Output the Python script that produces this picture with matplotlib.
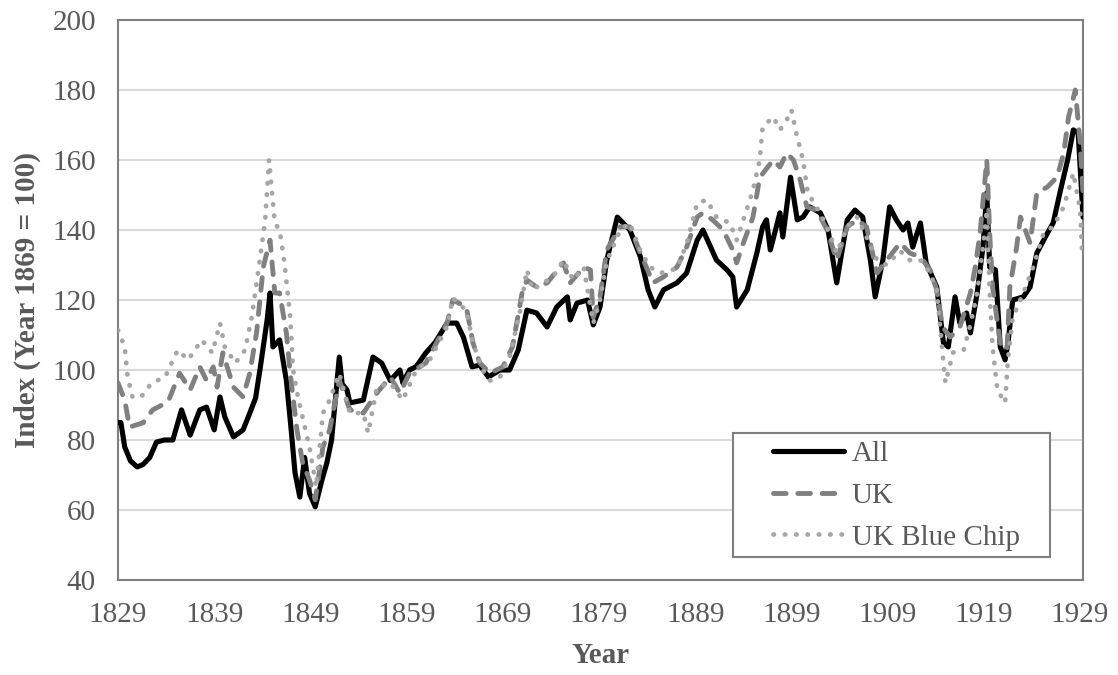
import matplotlib
matplotlib.use("Agg")
import matplotlib.pyplot as plt
from matplotlib.patches import Rectangle

# ---- data ----
years_all = [1829.0, 1829.3, 1829.7, 1830.3, 1831.0, 1831.6, 1832.3, 1833.0, 1833.8, 1834.7,
             1835.6, 1836.5, 1837.5, 1838.2, 1839.0, 1839.6, 1840.1, 1841.0, 1842.0, 1842.7,
             1843.3, 1843.8, 1844.5, 1844.8, 1845.1, 1845.8, 1846.5, 1847.0, 1847.4, 1847.9,
             1848.4, 1848.9, 1849.5, 1850.2, 1850.7, 1851.2, 1852.0, 1852.3, 1852.8, 1853.1,
             1854.5, 1855.5, 1856.4, 1857.3, 1858.3, 1858.6, 1859.3, 1860.0, 1861.0, 1862.0,
             1863.2, 1864.2, 1864.9, 1865.8, 1866.6, 1867.5, 1868.7, 1869.7, 1870.6, 1871.5,
             1872.5, 1873.6, 1874.6, 1875.7, 1876.0, 1876.7, 1877.8, 1878.4, 1879.1, 1879.8,
             1880.9, 1882.2, 1883.3, 1884.1, 1884.8, 1885.7, 1887.1, 1888.1, 1889.2, 1889.8,
             1891.2, 1892.3, 1892.9, 1893.3, 1894.4, 1895.4, 1896.0, 1896.4, 1896.8, 1897.8,
             1898.1, 1898.9, 1899.6, 1900.2, 1900.9, 1902.0, 1902.8, 1903.7, 1904.8, 1905.6,
             1906.4, 1907.2, 1907.7, 1908.5, 1909.2, 1909.9, 1910.6, 1911.1, 1911.6, 1912.4,
             1913.0, 1914.1, 1914.8, 1915.3, 1916.0, 1916.5, 1917.2, 1917.6, 1918.3, 1918.9,
             1919.3, 1919.6, 1920.2, 1920.7, 1921.2, 1921.5, 1922.0, 1923.1, 1923.8, 1924.5,
             1925.6, 1926.2, 1926.9, 1927.7, 1928.3, 1928.8, 1929.3]
vals_all = [85, 85, 78, 74, 72.3, 73, 75, 79.4, 80, 80,
            88.6, 81.4, 88.6, 89.4, 82.9, 92.3, 86.6, 80.9, 82.9, 87.7,
            92, 100.9, 114.3, 122, 106.6, 108.6, 97, 82.9, 70.6, 63.7,
            75, 64.8, 60.9, 68.6, 73.4, 80, 103.7, 96, 94.3, 90.6,
            91.4, 103.7, 102, 97, 100, 96.3, 100, 101, 104.9, 108,
            113.4, 113.4, 109.4, 100.9, 101.4, 98, 100, 100, 105.7, 117.1,
            116.3, 112.3, 118, 120.9, 114.3, 119.1, 120, 112.9, 118, 131.4,
            143.7, 140, 132.3, 122.9, 118, 122.9, 124.9, 127.7, 137.1, 140,
            131.4, 128.6, 126.6, 118, 122.9, 133.4, 140.9, 142.9, 134.3, 144.9,
            138, 155.1, 142.9, 143.7, 146.6, 144.9, 140, 124.9, 142.9, 145.7,
            143.7, 131.4, 120.9, 131.4, 146.6, 142.9, 140, 142, 135.1, 142,
            130.6, 123.7, 107.7, 106.6, 120.9, 113.4, 116.3, 110.6, 122, 135.1,
            150.6, 129.4, 128.6, 106.6, 102.9, 107.7, 120, 120.9, 123.7, 133.4,
            139.1, 142, 150.6, 160, 168.6, 167.7, 143.7]

years_uk = [1829.0, 1829.7, 1830.2, 1831.6, 1832.6, 1834.2, 1835.4, 1836.5, 1837.5, 1838.2,
            1838.9, 1839.3, 1839.9, 1841.0, 1842.0, 1842.7, 1843.4, 1844.1, 1844.8, 1845.3,
            1845.8, 1846.5, 1846.9, 1847.6, 1848.2, 1848.9, 1849.5, 1850.3, 1851.0, 1852.0,
            1853.1, 1854.5, 1855.9, 1857.3, 1858.3, 1859.3, 1861.0, 1863.2, 1863.8, 1865.2,
            1865.9, 1866.6, 1867.7, 1869.0, 1870.0, 1871.0, 1871.5, 1872.5, 1873.6, 1875.3,
            1876.0, 1877.4, 1878.1, 1878.4, 1879.1, 1879.8, 1881.2, 1882.2, 1883.3, 1884.6,
            1885.7, 1887.1, 1888.1, 1889.2, 1889.8, 1890.8, 1891.9, 1892.9, 1893.3, 1894.0,
            1895.0, 1895.7, 1897.1, 1897.8, 1898.5, 1899.2, 1899.9, 1900.6, 1901.6, 1902.7,
            1903.7, 1904.8, 1905.8, 1906.8, 1907.9, 1908.9, 1910.3, 1911.3, 1912.4, 1913.4,
            1914.1, 1914.7, 1915.5, 1916.5, 1917.6, 1918.1, 1918.6, 1919.3, 1919.6, 1919.9,
            1920.7, 1921.4, 1921.7, 1922.4, 1922.8, 1923.8, 1924.5, 1925.6, 1926.6, 1927.3,
            1927.8, 1928.5, 1929.0, 1929.3]
vals_uk = [96.3, 91.4, 83.7, 84.9, 88.6, 90.9, 99.1, 94.3, 100.9, 97,
           100.9, 95.1, 104.9, 95.1, 92.3, 99.1, 110.6, 129.4, 137.1, 122,
           122, 110.6, 99.1, 82.9, 73.4, 68.6, 62.9, 78, 82.9, 97,
           88.6, 87.7, 93.4, 98, 93.4, 99.1, 102, 113.4, 120, 118,
           107.7, 102, 99.1, 100.9, 106.6, 122, 125.7, 123.7, 124.9, 130.6,
           124.9, 129.4, 128.6, 115.1, 120.9, 134.3, 140.9, 140.9, 133.4, 124.9,
           126.6, 129.4, 135.1, 143.7, 144.9, 142.9, 140, 134.3, 130.6, 136.3,
           143.7, 155, 160, 158, 162, 160, 154.3, 146.6, 145.7, 140,
           131.4, 140.9, 142.9, 140.9, 127.7, 131.4, 136.3, 133.4, 132.3, 128.6,
           122.9, 112.3, 109.4, 112.3, 122, 129.4, 139.1, 160, 139.1, 123.7,
           107.7, 105.7, 123.7, 135.1, 143.7, 136.3, 150.6, 152.3, 155.1, 162,
           172.3, 180, 164.9, 150.6]

years_bc = [1829.0, 1829.7, 1830.0, 1830.5, 1831.4, 1832.5, 1833.9, 1835.2, 1836.3, 1837.7,
            1838.8, 1839.6, 1840.1, 1841.2, 1842.2, 1842.9, 1843.6, 1844.3, 1844.7, 1845.3,
            1845.8, 1846.3, 1846.9, 1847.2, 1847.7, 1848.9, 1849.6, 1850.3, 1851.0, 1852.0,
            1853.1, 1854.5, 1855.0, 1855.9, 1857.3, 1858.6, 1860.0, 1861.4, 1863.2, 1863.8,
            1865.2, 1865.9, 1866.9, 1867.7, 1868.7, 1869.7, 1870.8, 1871.5, 1872.1, 1873.2,
            1874.2, 1875.3, 1876.3, 1877.4, 1878.4, 1879.1, 1879.8, 1881.2, 1882.2, 1883.3,
            1884.3, 1885.4, 1887.1, 1888.1, 1889.2, 1890.2, 1891.2, 1892.6, 1893.3, 1894.0,
            1895.0, 1895.7, 1896.0, 1897.1, 1897.8, 1898.5, 1899.0, 1899.5, 1900.2, 1900.7,
            1901.6, 1902.7, 1903.7, 1904.8, 1905.8, 1906.8, 1907.9, 1908.9, 1910.3, 1911.3,
            1912.4, 1913.4, 1914.1, 1914.7, 1915.0, 1915.8, 1916.9, 1917.6, 1918.3, 1918.9,
            1919.3, 1919.6, 1919.9, 1920.4, 1921.2, 1921.5, 1922.0, 1923.1, 1924.2, 1925.2,
            1926.2, 1927.3, 1928.3, 1929.0, 1929.2]
vals_bc = [111.4, 106.6, 98, 92.3, 92.3, 96.3, 98, 105.7, 102.9, 108.6,
           104.9, 113.4, 106.6, 102, 105.7, 115.1, 128.6, 142.9, 160, 142,
           140, 130.6, 115.1, 100, 92.3, 78, 66.6, 87.7, 91.4, 99,
           87.7, 87.7, 82, 95, 96.3, 91.4, 100, 102.9, 112.3, 120.6,
           117, 107.7, 100, 97, 98, 103.7, 117, 128.6, 122.9, 124.9,
           126.6, 131.4, 125.7, 129.4, 113.4, 120, 131, 140, 142, 134,
           129.4, 127.7, 129, 136, 147.7, 148.6, 143.7, 142, 137.1, 142.9,
           151.4, 160, 169.4, 172.3, 168.6, 171.4, 174.3, 167.7, 160, 150.6,
           146.6, 141, 133.4, 141, 143.7, 138, 131.4, 130, 134, 131.4,
           131.4, 127.7, 123, 104.9, 96.3, 105, 105.7, 113, 122, 135,
           145.7, 122, 106.6, 94.3, 90.6, 103, 115, 122, 130, 139.1,
           141, 146.6, 156.3, 145.7, 134.3]

series_names = ["All", "UK", "UK Blue Chip"]
x_ticks = [1829, 1839, 1849, 1859, 1869, 1879, 1889, 1899, 1909, 1919, 1929]
y_ticks = [40, 60, 80, 100, 120, 140, 160, 180, 200]

# ---- figure ----
plt.rcParams['font.family'] = ['Liberation Serif', 'DejaVu Serif']
FS = 21
W, H = 1118, 675
fig = plt.figure(figsize=(W / 100, H / 100), dpi=100)
L, R, T, B = 118, 1083, 20, 580
ax = fig.add_axes([L / W, 1 - B / H, (R - L) / W, (B - T) / H])

def ax_x(px):
    return (px - L) / (R - L)

def ax_y(py):
    return (B - py) / (B - T)

ax.plot(years_all, vals_all, color='black', lw=3.7, solid_joinstyle='round',
        solid_capstyle='round', label=series_names[0], zorder=3)
ax.plot(years_uk, vals_uk, color='#808080', lw=3.5, linestyle=(0, (2.6, 2.4)),
        dash_capstyle='round', dash_joinstyle='round', label=series_names[1], zorder=4)
ax.plot(years_bc, vals_bc, color='#a6a6a6', lw=3.4, linestyle=(0, (0.1, 2.3)),
        dash_capstyle='round', label=series_names[2], zorder=5)

ax.set_xlim(1829, 1929.3)
ax.set_ylim(40, 200)
ax.set_xticks(x_ticks)
ax.set_yticks(y_ticks)
ax.tick_params(axis='both', length=0, labelsize=FS, labelcolor='#595959', pad=16)
ax.grid(axis='y', color='#d9d9d9', lw=1.5)
ax.set_axisbelow(True)
for s in ax.spines.values():
    s.set_color('#808080')
    s.set_linewidth(1.5)

ax.set_xlabel('Year', fontsize=FS, fontweight='bold', color='#595959', labelpad=10)
ax.set_ylabel('Index (Year 1869 = 100)', fontsize=FS, fontweight='bold', color='#595959', labelpad=8)

# legend frame drawn as its own box, entries placed inside
frame = Rectangle((ax_x(733), ax_y(557)), ax_x(1050) - ax_x(733), ax_y(433) - ax_y(557),
                  transform=ax.transAxes, facecolor='white', edgecolor='#808080',
                  lw=1.5, zorder=6)
ax.add_patch(frame)
leg = ax.legend(loc='upper left', bbox_to_anchor=(ax_x(773), ax_y(441)), fontsize=FS,
                frameon=False, borderpad=0, borderaxespad=0,
                handlelength=2.45, labelspacing=0.52, handletextpad=0.25)
leg.set_zorder(7)
for t in leg.get_texts():
    t.set_color('#595959')

fig.savefig('out.png', dpi=100)
